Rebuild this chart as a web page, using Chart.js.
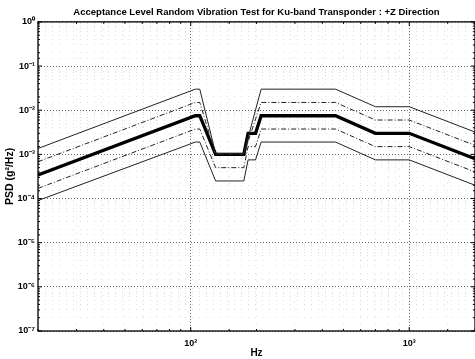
<!DOCTYPE html>
<html><head><meta charset="utf-8">
<script src="https://cdn.jsdelivr.net/npm/chart.js@4/dist/chart.umd.min.js"></script>
<style>html,body{margin:0;padding:0;background:#fff;overflow:hidden}#wrap{width:482px;height:359px;position:relative}</style>
</head><body><div id="wrap"><canvas id="c"></canvas></div>
<script>
// Frequencies (Hz) and PSD values (g^2/Hz)
const freqNominal = [20, 105, 110, 130, 175, 183, 198, 210, 460, 700, 1000, 2000];
const psdNominal  = [0.00034, 0.0075, 0.0075, 0.001, 0.001, 0.003, 0.003, 0.0075, 0.0075, 0.003, 0.003, 0.0008];

const freqUpper = [20, 105, 110, 130, 175, 210, 460, 700, 1000, 2000];
const psdPlus6  = [0.00136, 0.03, 0.03, 0.00105, 0.00105, 0.03, 0.03, 0.012, 0.012, 0.0032];
const psdPlus3  = [0.00068, 0.015, 0.015, 0.001, 0.001, 0.015, 0.015, 0.006, 0.006, 0.0016];

const freqLower = [20, 105, 110, 130, 175, 183, 198, 210, 460, 700, 1000, 2000];
const psdMinus3 = [0.00017, 0.00375, 0.00375, 0.0005, 0.0005, 0.0015, 0.0015, 0.00375, 0.00375, 0.0015, 0.0015, 0.0004];
const psdMinus6 = [0.00009, 0.0019, 0.0019, 0.00025, 0.00025, 0.00075, 0.00075, 0.0019, 0.0019, 0.00075, 0.00075, 0.0002];

const xRange = [20, 2000];
const yRange = [1e-7, 1];
const titleText = 'Acceptance Level Random Vibration Test for Ku-band Transponder : +Z Direction';
const xTitle = 'Hz';
const yTitle = 'PSD (g\u00B2/Hz)';

const sup = {'0':'\u2070','1':'\u00B9','2':'\u00B2','3':'\u00B3','4':'\u2074','5':'\u2075','6':'\u2076','7':'\u2077','8':'\u2078','9':'\u2079','-':'\u207B'};
function isMajor(v){ const l = Math.log10(v); return Math.abs(l - Math.round(l)) < 1e-6; }
function powLabel(v){ if(!isMajor(v)) return ''; const e = String(Math.round(Math.log10(v))); return '10' + e.split('').map(c=>sup[c]).join(''); }
const pts = (f, p) => f.map((x, i) => ({x, y: p[i]}));

const fam = '"Liberation Sans", Arial, sans-serif';
const tickFont = {family: fam, weight: 'bold', size: 9};
const xTitleFont = {family: fam, weight: 'bold', size: 10};
const yTitleFont = {family: fam, weight: 'bold', size: 10.5};
const gridColor = ctx => (ctx.tick && isMajor(ctx.tick.value)) ? 'rgba(0,0,0,0.6)' : 'rgba(0,0,0,0.13)';
const gridDash = ctx => (ctx.tick && isMajor(ctx.tick.value)) ? [1, 2] : [1, 6];

const framePlugin = {
  id: 'frame',
  afterDatasetsDraw(chart){
    const {ctx, chartArea: a, scales} = chart;
    ctx.save();
    ctx.strokeStyle = '#000'; ctx.lineWidth = 1.3;
    ctx.strokeRect(a.left, a.top, a.right - a.left, a.bottom - a.top);
    ctx.lineWidth = 1;
    ctx.beginPath();
    scales.y.ticks.forEach(t => {
      const y = scales.y.getPixelForValue(t.value);
      const len = isMajor(t.value) ? 4 : 2;
      ctx.moveTo(a.left, y); ctx.lineTo(a.left + len, y);
      ctx.moveTo(a.right, y); ctx.lineTo(a.right - len, y);
    });
    scales.x.ticks.forEach(t => {
      const x = scales.x.getPixelForValue(t.value);
      const len = isMajor(t.value) ? 4 : 2;
      ctx.moveTo(x, a.bottom); ctx.lineTo(x, a.bottom - len);
      ctx.moveTo(x, a.top); ctx.lineTo(x, a.top + len);
    });
    ctx.stroke();
    ctx.restore();
  }
};

new Chart(document.getElementById('c'), {
  type: 'line',
  data: {
    datasets: [
      {label: '+6 dB', data: pts(freqUpper, psdPlus6), borderColor: '#222', borderWidth: 1, borderDash: []},
      {label: '+3 dB', data: pts(freqUpper, psdPlus3), borderColor: '#222', borderWidth: 1, borderDash: [5, 2, 1, 2]},
      {label: 'Nominal', data: pts(freqNominal, psdNominal), borderColor: '#000', borderWidth: 3.3},
      {label: '-3 dB', data: pts(freqLower, psdMinus3), borderColor: '#222', borderWidth: 1, borderDash: [5, 2, 1, 2]},
      {label: '-6 dB', data: pts(freqLower, psdMinus6), borderColor: '#222', borderWidth: 1, borderDash: []}
    ]
  },
  options: {
    responsive: true, maintainAspectRatio: false, animation: false,
    elements: {point: {radius: 0}, line: {tension: 0, fill: false}},
    layout: {padding: {left: 0, right: 5, top: 0, bottom: 0}},
    plugins: {
      legend: {display: false}, tooltip: {enabled: false},
      title: {display: true, fullSize: false, text: titleText, color: '#000',
        font: {family: fam, weight: 'bold', size: 9.5}, padding: {top: 6.5, bottom: 4}}
    },
    scales: {
      x: {
        type: 'logarithmic', min: xRange[0], max: xRange[1], position: 'bottom',
        grid: {color: gridColor, drawTicks: false, lineWidth: 1},
        border: {display: false, dash: gridDash},
        ticks: {autoSkip: false, maxRotation: 0, color: '#000', font: tickFont, padding: 7, callback: (v) => powLabel(v)},
        title: {display: true, text: xTitle, color: '#000', font: xTitleFont, padding: {top: 0, bottom: 0}},
        afterFit: s => { s.height = 28; }
      },
      y: {
        type: 'logarithmic', min: yRange[0], max: yRange[1],
        grid: {color: gridColor, drawTicks: false, lineWidth: 1},
        border: {display: false, dash: gridDash},
        ticks: {autoSkip: false, color: '#000', font: tickFont, padding: 3, callback: (v) => powLabel(v)},
        title: {display: true, text: yTitle, color: '#000', font: yTitleFont, padding: {top: 4, bottom: 0}},
        afterFit: s => { s.width = 38; }
      }
    }
  },
  plugins: [framePlugin]
});
</script>
</body></html>
